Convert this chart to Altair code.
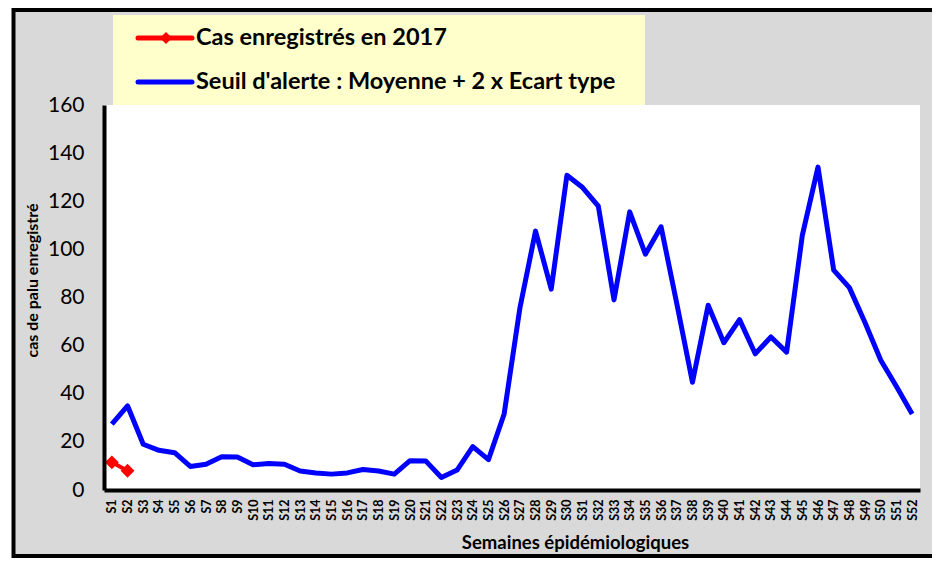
import altair as alt
import pandas as pd

weeks = [f"S{i}" for i in range(1, 53)]
seuil = [27.4, 35, 19, 16.5, 15.5, 9.8, 10.7, 13.8, 13.7, 10.5,
         11, 10.7, 7.9, 7.1, 6.6, 7.1, 8.5, 7.9, 6.6, 12.2,
         12.1, 5.2, 8.3, 18, 12.6, 31.6, 75.5, 107.6, 83.5, 130.8,
         125.7, 118, 79, 115.6, 98, 109.4, 77.5, 44.8, 76.8, 61.2,
         70.8, 56.6, 63.6, 57.3, 105.8, 134.2, 91.4, 84.1, 69.5, 53.9,
         43, 31.6]
cas_weeks = ["S1", "S2"]
cas_2017 = [11.5, 8.0]
y_ticks = [0, 20, 40, 60, 80, 100, 120, 140, 160]

legend_labels = ["Cas enregistrés en 2017", "Seuil d'alerte : Moyenne + 2 x Ecart type"]

FONT = "Lato"
W, H = 816, 385
TOTAL_H = 550
PAD_TOP = 97
PAD_BOTTOM = TOTAL_H - PAD_TOP - H

df_seuil = pd.DataFrame({"semaine": weeks, "valeur": seuil})
df_cas = pd.DataFrame({"semaine": cas_weeks, "valeur": cas_2017})
one = pd.DataFrame({"a": [0]})

x_enc = alt.X(
    "semaine:O",
    scale=alt.Scale(domain=weeks),
    axis=alt.Axis(
        title="Semaines épidémiologiques",
        titleFont=FONT, titleFontSize=18.5, titleFontWeight="bold", titleColor="black",
        titleX=471, titleY=58, titleAlign="center", titleBaseline="alphabetic",
        labelAngle=270, labelFont=FONT, labelFontSize=12.5, labelFontWeight="bold",
        labelColor="black", labelPadding=9,
        ticks=False, domainColor="black", domainWidth=4, grid=False, zindex=1,
    ),
)
y_enc = alt.Y(
    "valeur:Q",
    scale=alt.Scale(domain=[0, 160], nice=False),
    axis=alt.Axis(
        title="cas de palu enregistré",
        titleFont=FONT, titleFontSize=16, titleFontWeight="bold", titleColor="black",
        titleX=-72, titleY=175, titleAngle=270, titleAlign="center", titleBaseline="middle",
        values=y_ticks, labelFont=FONT, labelFontSize=21, labelColor="black",
        labelPadding=20, ticks=False, domainColor="black", domainWidth=4, grid=False, zindex=1,
    ),
)

# outer frame (grey panel with black border)
frame = alt.Chart(one).mark_rect(fill="#D9D9D9", stroke="black", strokeWidth=4).encode(
    x=alt.value(-90.5), x2=alt.value(W + 40), y=alt.value(-95), y2=alt.value(H + PAD_BOTTOM - 2)
)
plot_bg = alt.Chart(one).mark_rect(fill="white").encode(
    x=alt.value(0), x2=alt.value(W), y=alt.value(0), y2=alt.value(H)
)
legend_bg = alt.Chart(one).mark_rect(fill="#FFFFCC").encode(
    x=alt.value(9), x2=alt.value(541), y=alt.value(-90), y2=alt.value(0)
)
leg_red = alt.Chart(one).mark_rule(color="red", strokeWidth=5, strokeCap="round").encode(
    x=alt.value(34), x2=alt.value(88), y=alt.value(-67)
)
leg_red_pt = alt.Chart(one).mark_point(shape="diamond", filled=True, color="red", size=150, opacity=1).encode(
    x=alt.value(62), y=alt.value(-67)
)
leg_blue = alt.Chart(one).mark_rule(color="blue", strokeWidth=5, strokeCap="round").encode(
    x=alt.value(34), x2=alt.value(88), y=alt.value(-23)
)
leg_txt1 = alt.Chart(one).mark_text(align="left", baseline="middle", font=FONT, fontSize=23.5,
                                     fontWeight="bold", color="black").encode(
    x=alt.value(92), y=alt.value(-67), text=alt.value(legend_labels[0])
)
leg_txt2 = alt.Chart(one).mark_text(align="left", baseline="middle", font=FONT, fontSize=23.5,
                                     fontWeight="bold", color="black").encode(
    x=alt.value(92), y=alt.value(-23), text=alt.value(legend_labels[1])
)

blue_line = alt.Chart(df_seuil).mark_line(color="blue", strokeWidth=5, strokeJoin="round").encode(
    x=x_enc, y=y_enc
)
red_line = alt.Chart(df_cas).mark_line(color="red", strokeWidth=4).encode(x=x_enc, y=y_enc)
red_pts = alt.Chart(df_cas).mark_point(shape="diamond", filled=True, color="red", size=190, opacity=1).encode(
    x=x_enc, y=y_enc
)

chart = alt.layer(
    frame, plot_bg, legend_bg, leg_red, leg_red_pt, leg_blue, leg_txt1, leg_txt2,
    blue_line, red_line, red_pts,
).properties(
    width=W, height=H,
    padding={"left": 96, "top": PAD_TOP, "right": 12, "bottom": PAD_BOTTOM},
    autosize=alt.AutoSizeParams(type="none"),
    background="white",
).configure_view(stroke=None)

chart.save("out.html", embed_options={"renderer": "svg", "actions": False})
